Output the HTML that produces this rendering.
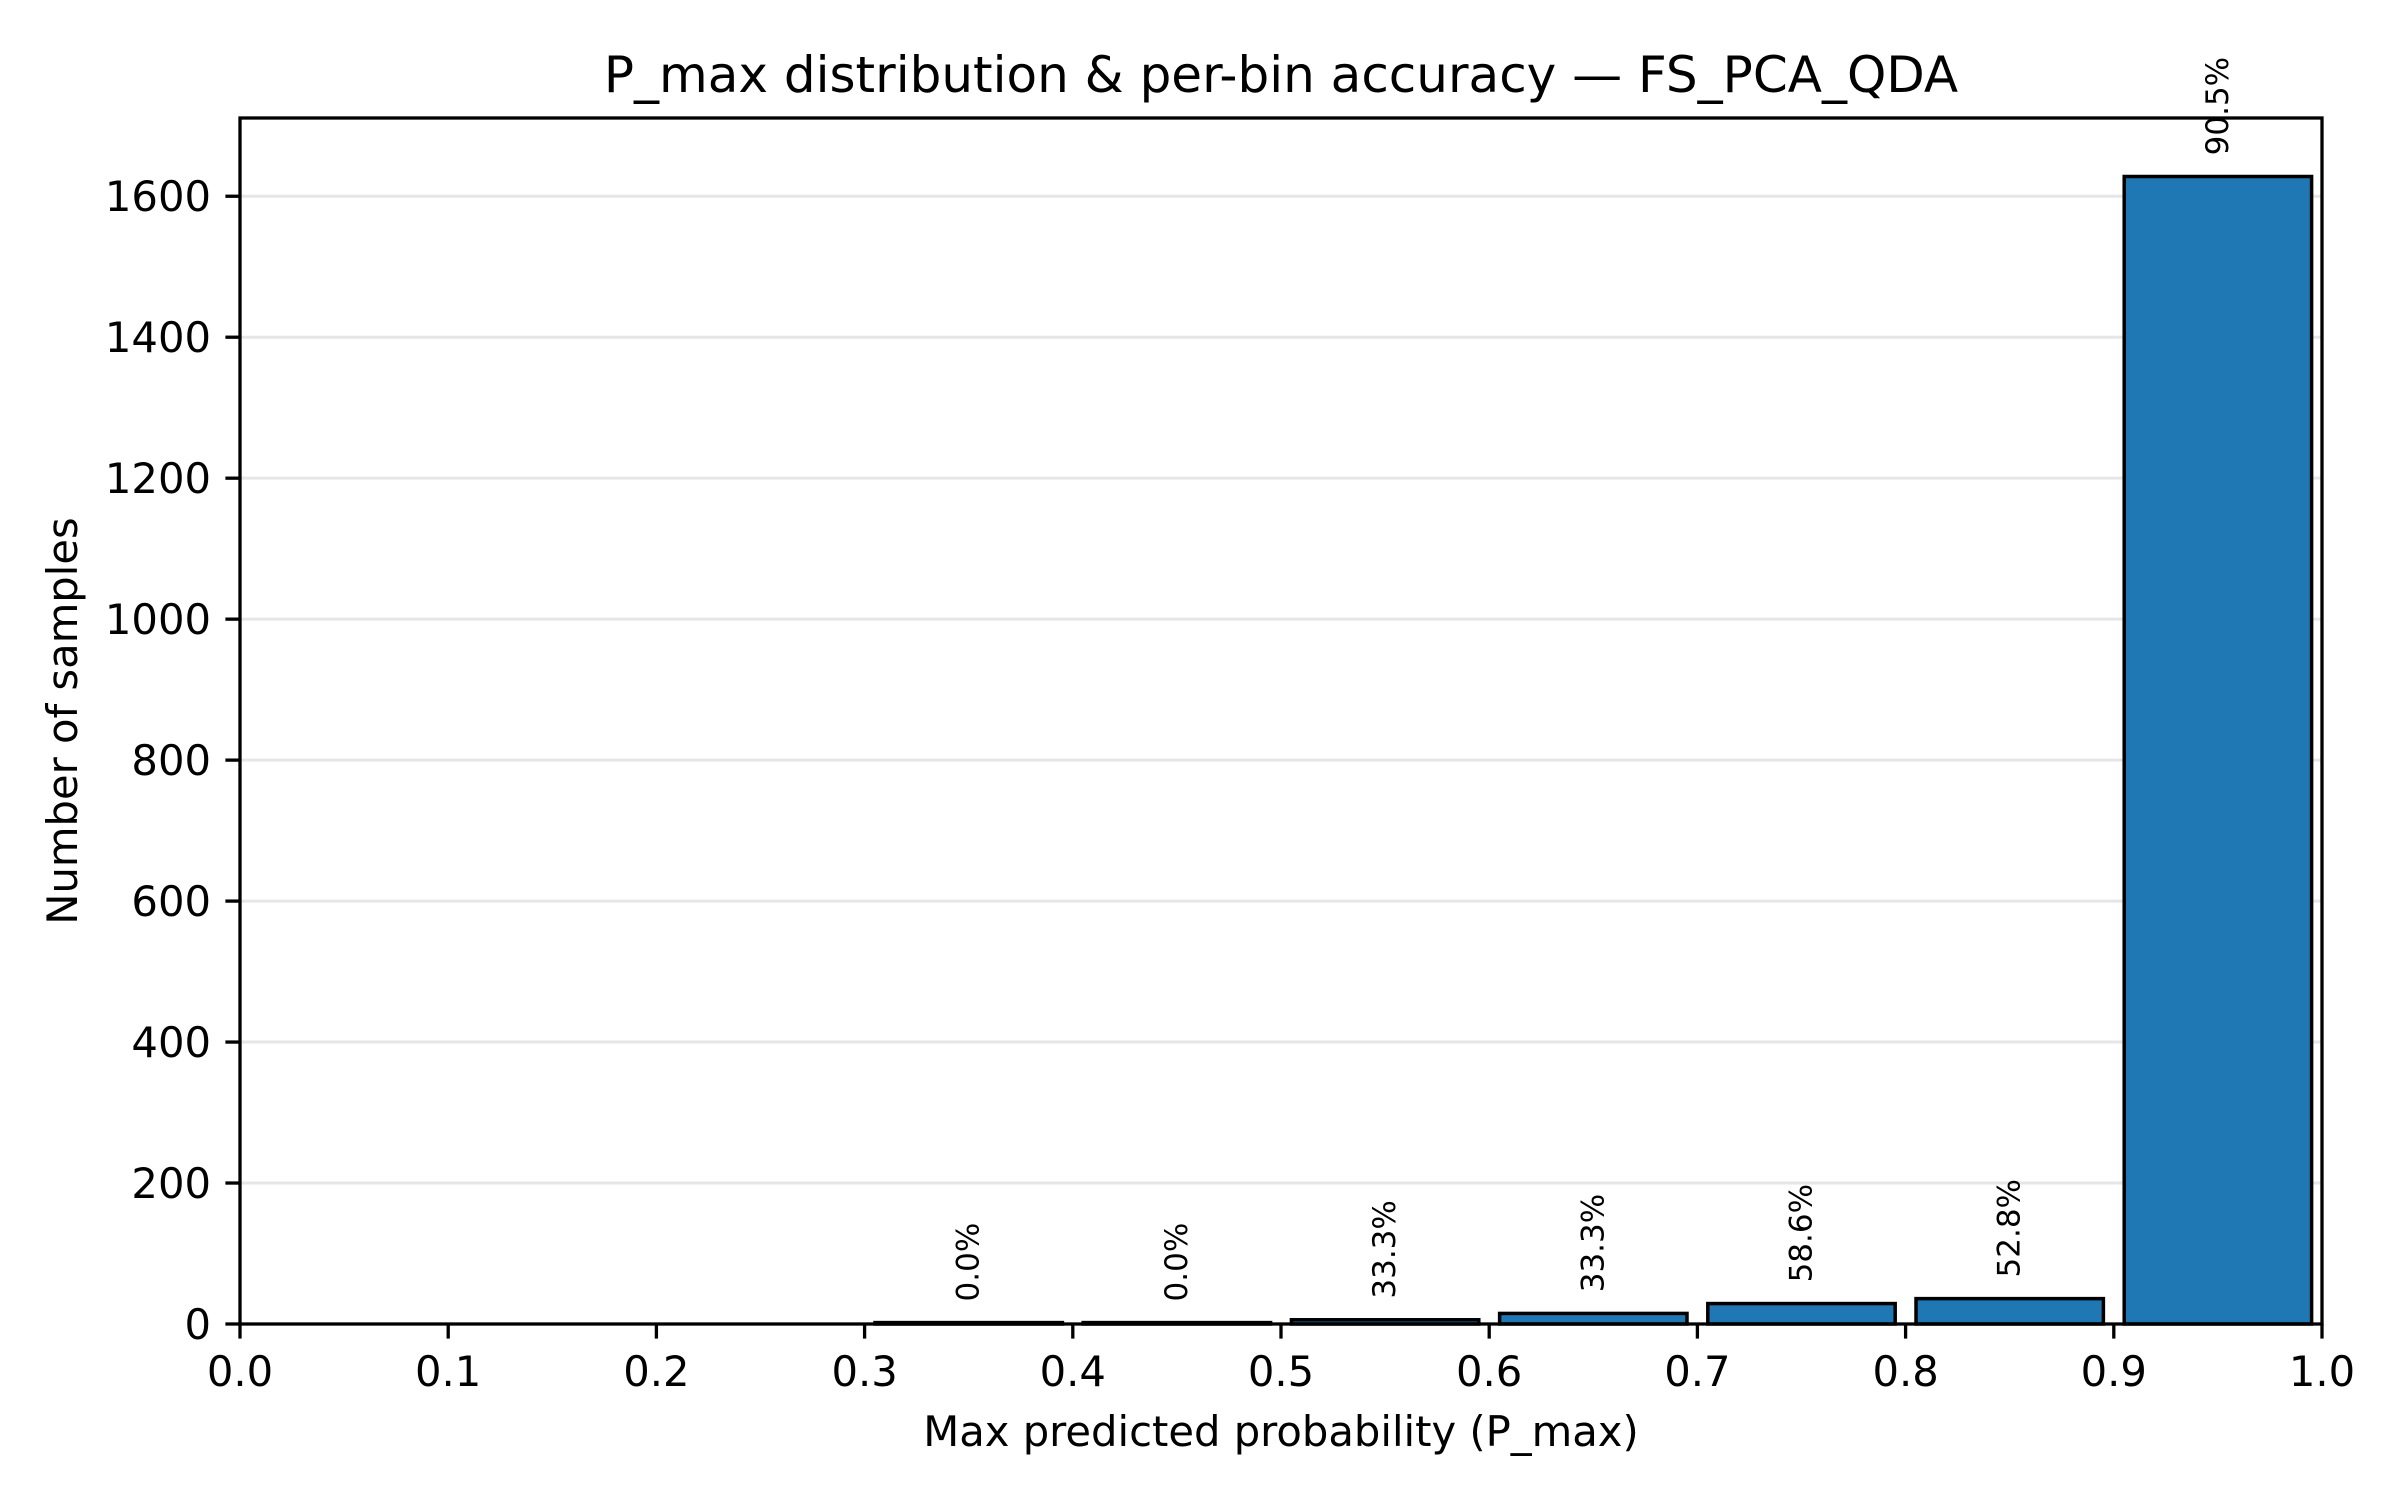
<!DOCTYPE html>
<html><head><meta charset="utf-8"><style>
html,body{margin:0;padding:0;background:#fff;}
svg{display:block;font-family:"DejaVu Sans","Liberation Sans",sans-serif;}
</style></head><body>
<svg id="chart" width="2400" height="1500" viewBox="0 0 2400 1500" xmlns="http://www.w3.org/2000/svg">
<rect width="2400" height="1500" fill="#fff"/>
<g id="grid"></g>
<g id="bars"></g>
<g id="labels"></g>
<rect x="240" y="118" width="2082" height="1206" fill="none" stroke="#000" stroke-width="3.3"/>
<g id="xticks"></g>
<g id="yticks"></g>
<text x="1281" y="92" font-size="50" text-anchor="middle">P_max distribution &amp; per-bin accuracy — FS_PCA_QDA</text>
<text x="1281" y="1446" font-size="41.7" text-anchor="middle">Max predicted probability (P_max)</text>
<text x="0" y="0" font-size="41.7" text-anchor="middle" transform="translate(77,721) rotate(-90)">Number of samples</text>
</svg>
<script>
const binStarts = [0.0,0.1,0.2,0.3,0.4,0.5,0.6,0.7,0.8,0.9];
const counts = [0,0,0,2,2,6,15,29,36,1628];
const accLabels = [null,null,null,"0.0%","0.0%","33.3%","33.3%","58.6%","52.8%","90.5%"];
const xTicks = [0.0,0.1,0.2,0.3,0.4,0.5,0.6,0.7,0.8,0.9,1.0];
const xTickLabels = ["0.0","0.1","0.2","0.3","0.4","0.5","0.6","0.7","0.8","0.9","1.0"];
const yTicks = [0,200,400,600,800,1000,1200,1400,1600];

const NS="http://www.w3.org/2000/svg";
const L=240,R=2322,T=118,B=1324,YMAX=1711;
const xs=v=>L+(R-L)*v;
const ys=v=>B-(B-T)*v/YMAX;
function mk(tag,attrs,parent){const e=document.createElementNS(NS,tag);for(const k in attrs)e.setAttribute(k,attrs[k]);parent.appendChild(e);return e;}
const grid=document.getElementById('grid'),bars=document.getElementById('bars'),labels=document.getElementById('labels'),xt=document.getElementById('xticks'),yt=document.getElementById('yticks');
yTicks.forEach((v,i)=>{
  const y=ys(v);
  if(v>0){const g=mk('line',{x1:L,x2:R,y1:y,y2:y,stroke:'#e6e6e6','stroke-width':3},grid);
  
  }
  const t=mk('line',{x1:L-14.6,x2:L,y1:y,y2:y,stroke:'#000','stroke-width':3.3},yt);
  
  
  const tx=mk('text',{x:L-29,y:y+15,'font-size':41.7,'text-anchor':'end'},yt);
  tx.textContent=String(v);
  
  
});
xTicks.forEach((v,i)=>{
  const x=xs(v);
  const t=mk('line',{x1:x,x2:x,y1:B,y2:B+14.6,stroke:'#000','stroke-width':3.3},xt);
  
  
  const tx=mk('text',{x:x,y:1386,'font-size':41.7,'text-anchor':'middle'},xt);
  tx.textContent=xTickLabels[i];
  
  
});
binStarts.forEach((s,i)=>{
  const x0=xs(s+0.005),x1=xs(s+0.095),y=ys(counts[i]);
  const r=mk('rect',{x:x0,y:y,width:x1-x0,height:Math.max(B-y,0),fill:'#1f77b4',stroke:'#000','stroke-width':3.5},bars);
  
  
  if(accLabels[i]){
    const cx=xs(s+0.05),ly=ys(counts[i]+30);
    const t=mk('text',{x:0,y:0,'font-size':31,'text-anchor':'start','dominant-baseline':'central',transform:`translate(${cx},${ly}) rotate(-90)`},labels);
    t.textContent=accLabels[i];
    
    
  }
});
</script>
</body></html>
